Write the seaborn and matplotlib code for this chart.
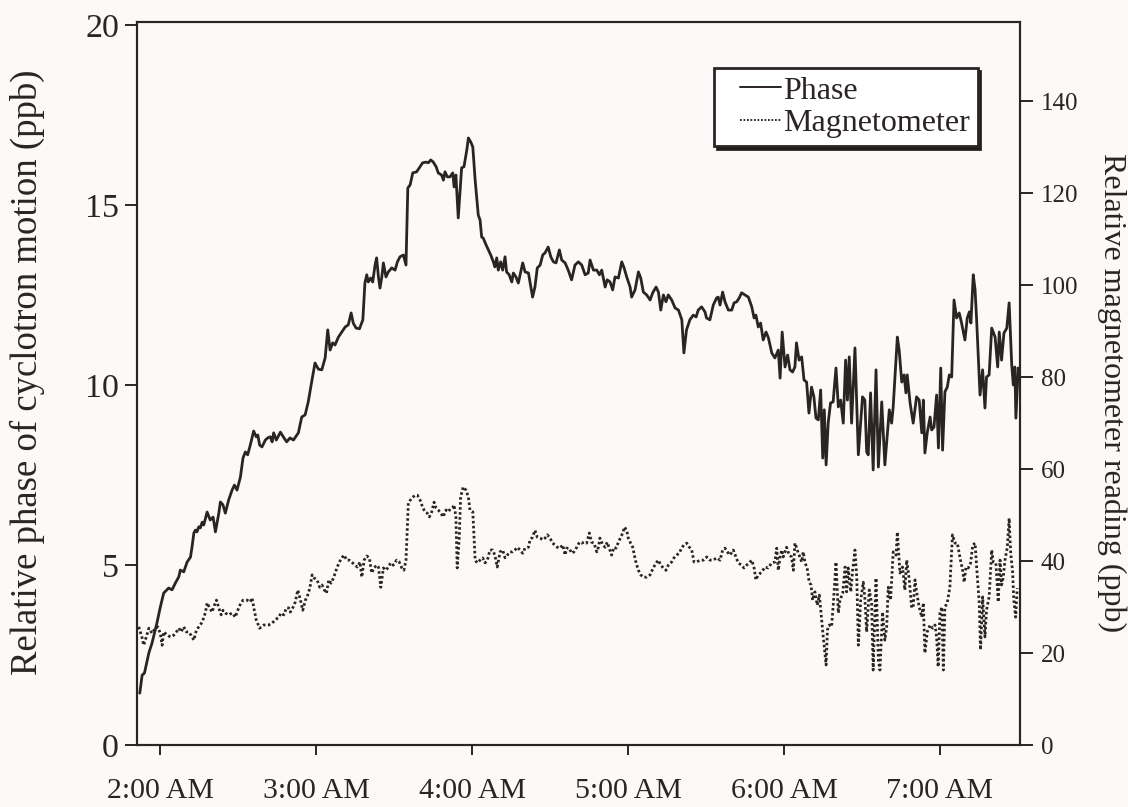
import matplotlib
matplotlib.use("Agg")
import matplotlib.pyplot as plt
from matplotlib.legend_handler import HandlerLine2D
import seaborn as sns
import pandas as pd

# Time axis: minutes after 2:00 AM
tick_minutes = [0, 60, 120, 180, 240, 300]
tick_labels = ["2:00 AM", "3:00 AM", "4:00 AM", "5:00 AM", "6:00 AM", "7:00 AM"]

# Relative phase of cyclotron motion (ppb)
phase_min = [
    -7.8, -6.9, -6.0, -4.3, -3.1, -1.2, 0.1, 1.4, 3.3, 4.6, 5.9, 7.2, 7.8, 9.1, 10.4, 11.7,
    12.3, 13.0, 13.6, 14.2, 14.9, 15.5, 16.2, 16.8, 18.1, 19.3, 20.4, 21.3, 22.6, 23.2, 24.2, 25.1,
    26.4, 27.7, 28.6, 29.6, 30.9, 31.9, 32.8, 33.7, 34.7, 36.0, 37.0, 37.6, 38.3, 39.2, 40.5, 41.4,
    42.4, 43.1, 43.7, 44.7, 46.3, 47.4, 48.7, 50.0, 51.3, 53.2, 54.5, 55.8, 57.0, 58.3, 59.6, 60.9,
    62.2, 63.5, 64.5, 65.4, 66.4, 67.3, 68.6, 69.9, 71.2, 72.4, 73.5, 74.3, 75.4, 76.7, 78.0, 78.8,
    79.5, 80.1, 81.0, 81.8, 82.7, 83.3, 84.0, 84.6, 85.3, 85.9, 86.9, 87.8, 89.1, 90.4, 91.3, 92.3,
    93.6, 94.6, 95.3, 96.2, 97.2, 98.7, 99.7, 101.0, 102.3, 103.2, 104.1, 105.1, 106.2, 107.0, 108.3, 109.0,
    109.6, 110.5, 111.5, 112.6, 113.1, 113.8, 114.7, 116.0, 116.9, 118.0, 118.6, 119.5, 120.3, 121.2, 121.8, 122.4,
    123.1, 123.7, 124.3, 125.4, 126.3, 127.2, 128.2, 128.8, 129.5, 130.1, 131.0, 131.8, 132.7, 133.3, 134.3, 135.3,
    135.9, 136.9, 137.8, 138.5, 139.5, 140.4, 141.7, 142.3, 143.3, 144.2, 145.1, 146.2, 147.2, 148.1, 149.3, 150.3,
    151.3, 152.3, 153.6, 154.5, 155.8, 157.0, 158.3, 159.6, 160.9, 162.2, 163.5, 164.7, 165.4, 166.7, 168.0, 169.0,
    169.9, 171.2, 172.0, 173.1, 174.1, 175.0, 176.3, 177.6, 178.5, 179.5, 180.8, 181.4, 182.7, 184.0, 184.9, 185.9,
    187.2, 188.5, 189.5, 190.8, 191.7, 192.6, 193.6, 194.6, 195.5, 196.8, 198.1, 199.4, 200.7, 201.5, 202.5, 203.8,
    205.1, 206.2, 207.0, 208.3, 209.6, 210.2, 211.5, 212.8, 214.1, 214.7, 215.4, 216.4, 217.3, 218.6, 219.9, 220.8,
    221.8, 222.8, 223.7, 225.0, 226.3, 227.6, 228.5, 229.2, 230.1, 231.0, 232.0, 233.1, 234.0, 235.3, 236.5, 237.8,
    238.5, 239.3, 240.4, 241.4, 242.3, 243.3, 244.2, 244.8, 245.8, 246.8, 247.7, 248.7, 249.6, 250.6, 251.5, 252.3,
    253.2, 254.1, 254.9, 255.5, 256.2, 257.0, 257.9, 258.9, 260.0, 260.9, 261.8, 262.8, 263.7, 264.4, 265.1, 266.0,
    267.3, 268.6, 270.2, 271.1, 271.8, 272.4, 273.3, 274.3, 275.4, 276.3, 277.6, 278.8, 280.5, 281.4, 282.0, 283.6,
    284.3, 285.3, 286.2, 286.9, 287.4, 288.5, 289.7, 291.0, 292.0, 293.0, 293.6, 294.2, 295.1, 296.2, 296.8, 297.7,
    298.7, 299.4, 300.3, 301.0, 301.9, 302.8, 303.6, 304.5, 305.4, 306.4, 307.4, 308.3, 309.6, 310.5, 311.3, 311.9,
    312.8, 313.5, 314.1, 315.4, 316.4, 317.3, 317.9, 318.9, 319.9, 321.2, 322.2, 322.8, 323.7, 324.6, 325.7, 326.6,
    327.6, 328.2, 328.8, 329.2, 330.1,
]
phase_ppb = [
    1.44, 1.94, 2.00, 2.56, 2.83, 3.39, 3.83, 4.22, 4.36, 4.31, 4.50, 4.67, 4.86, 4.81, 5.08, 5.22,
    5.50, 5.89, 5.97, 5.92, 6.06, 6.03, 6.19, 6.11, 6.47, 6.25, 6.33, 5.92, 6.44, 6.75, 6.67, 6.44,
    6.81, 7.08, 7.22, 7.08, 7.44, 7.97, 8.14, 8.06, 8.33, 8.72, 8.56, 8.61, 8.33, 8.28, 8.47, 8.53,
    8.56, 8.42, 8.67, 8.47, 8.69, 8.56, 8.42, 8.53, 8.47, 8.67, 9.11, 9.17, 9.53, 10.08, 10.61, 10.44,
    10.42, 10.75, 11.53, 10.97, 11.17, 11.11, 11.33, 11.47, 11.61, 11.67, 12.00, 11.72, 11.58, 11.56, 11.81, 12.83,
    13.06, 12.86, 12.97, 12.86, 13.33, 13.53, 13.00, 12.69, 13.00, 13.39, 13.00, 13.14, 13.25, 13.19, 13.42, 13.56,
    13.61, 13.33, 15.47, 15.56, 15.89, 15.92, 16.03, 16.17, 16.19, 16.17, 16.25, 16.19, 16.06, 15.89, 15.83, 15.69,
    15.92, 15.78, 15.78, 15.89, 15.50, 15.83, 14.64, 16.03, 16.06, 16.53, 16.86, 16.75, 16.61, 15.69, 15.22, 14.72,
    14.58, 14.11, 14.08, 13.89, 13.75, 13.61, 13.42, 13.28, 13.53, 13.19, 13.42, 13.19, 13.56, 13.14, 13.06, 12.86,
    13.11, 13.00, 12.83, 13.06, 13.39, 13.14, 13.11, 12.86, 12.44, 12.72, 13.25, 13.33, 13.61, 13.67, 13.83, 13.56,
    13.42, 13.39, 13.75, 13.47, 13.39, 13.19, 12.92, 13.33, 13.42, 13.33, 13.06, 13.11, 13.47, 13.19, 13.19, 13.06,
    13.19, 12.72, 12.92, 12.86, 12.64, 13.00, 12.97, 13.42, 13.25, 13.00, 12.72, 12.44, 12.64, 13.14, 12.97, 12.58,
    12.50, 12.36, 12.56, 12.72, 12.58, 12.08, 12.50, 12.31, 12.50, 12.36, 12.14, 12.08, 11.81, 10.89, 11.53, 11.81,
    11.94, 11.89, 12.08, 12.17, 12.03, 11.86, 11.81, 12.22, 12.42, 12.44, 12.22, 12.58, 12.31, 12.08, 12.08, 12.28,
    12.31, 12.42, 12.56, 12.50, 12.44, 12.17, 11.86, 11.94, 11.61, 11.72, 11.25, 11.47, 11.31, 10.89, 10.75, 10.97,
    10.19, 11.47, 10.50, 10.83, 10.42, 10.36, 10.50, 11.17, 10.69, 10.78, 10.14, 10.08, 9.22, 9.94, 9.67, 9.08,
    9.03, 9.86, 7.97, 9.31, 7.78, 8.94, 9.50, 9.53, 10.47, 9.39, 9.58, 8.94, 10.69, 9.58, 10.78, 8.94,
    11.03, 8.06, 9.67, 9.58, 8.14, 8.06, 9.78, 7.64, 10.42, 7.72, 9.53, 7.78, 9.31, 8.94, 9.39, 11.33,
    10.97, 10.08, 10.28, 9.78, 10.28, 9.50, 8.94, 9.67, 9.58, 8.67, 9.58, 8.11, 8.67, 9.11, 8.75, 8.83,
    9.72, 8.25, 10.47, 8.19, 9.81, 9.94, 10.28, 10.22, 12.36, 11.86, 12.00, 11.72, 11.25, 11.86, 12.03, 11.72,
    13.06, 12.64, 11.81, 9.72, 10.42, 9.36, 10.22, 10.28, 11.58, 11.33, 10.50, 11.47, 10.69, 11.44, 11.58, 12.28,
    10.56, 10.00, 10.50, 9.08, 10.47,
]

# Relative magnetometer reading (ppb)
mag_min = [
    -8.2, -6.9, -6.3, -5.3, -4.3, -3.1, -1.8, -0.9, 0.1, 0.8, 1.4, 2.7, 4.0, 5.3, 6.3, 7.2,
    8.1, 9.1, 10.1, 11.0, 11.9, 13.0, 14.0, 14.9, 16.2, 17.4, 18.1, 19.1, 20.0, 20.9, 21.7, 22.6,
    23.5, 24.2, 25.1, 26.4, 27.7, 29.0, 29.6, 30.7, 31.9, 33.5, 34.7, 35.4, 36.0, 37.0, 38.3, 39.9,
    41.8, 43.1, 44.3, 45.7, 46.5, 47.6, 48.6, 49.5, 50.1, 51.2, 52.0, 53.0, 54.0, 54.9, 55.9, 56.8,
    57.6, 58.5, 59.3, 60.4, 61.4, 62.3, 63.2, 64.0, 64.9, 65.8, 66.7, 68.0, 69.0, 69.9, 70.8, 71.8,
    72.8, 73.7, 75.0, 75.9, 76.9, 77.6, 78.5, 79.5, 80.5, 81.4, 82.3, 83.3, 84.0, 84.9, 85.9, 86.9,
    87.8, 88.7, 89.7, 91.0, 92.0, 93.0, 93.8, 94.6, 95.5, 96.8, 98.1, 99.0, 100.0, 101.0, 101.9, 102.8,
    103.6, 104.5, 105.4, 106.2, 107.0, 108.0, 108.9, 110.0, 110.9, 111.8, 112.6, 113.1, 113.8, 114.3, 115.1, 115.6,
    116.6, 117.7, 118.6, 119.2, 120.3, 121.2, 122.0, 123.1, 124.1, 125.0, 125.9, 126.9, 127.9, 128.8, 129.7, 130.8,
    131.8, 132.7, 133.6, 134.6, 135.6, 136.5, 137.4, 138.5, 139.5, 140.4, 141.7, 142.3, 143.3, 144.2, 145.1, 146.2,
    147.2, 148.1, 149.0, 150.0, 151.0, 151.9, 152.8, 153.8, 154.9, 155.8, 156.4, 157.4, 158.3, 159.2, 160.3, 161.3,
    162.2, 163.1, 164.1, 165.1, 166.0, 166.9, 168.0, 168.6, 169.2, 170.3, 171.2, 172.0, 172.8, 173.7, 174.6, 175.4,
    176.3, 177.2, 178.0, 178.6, 179.5, 180.1, 181.0, 181.8, 182.3, 183.1, 184.0, 184.9, 185.9, 187.2, 188.5, 189.7,
    190.8, 191.7, 192.6, 193.6, 194.6, 195.5, 196.8, 197.7, 198.7, 199.7, 200.6, 201.5, 202.6, 203.6, 204.5, 205.4,
    206.4, 207.7, 209.0, 210.3, 211.5, 212.8, 214.1, 215.4, 216.4, 217.3, 218.6, 219.2, 220.5, 221.5, 222.4, 223.7,
    224.6, 225.6, 226.6, 227.6, 228.5, 229.2, 230.1, 231.4, 232.7, 233.9, 235.3, 236.5, 237.2, 237.8, 238.5, 239.1,
    239.7, 240.4, 241.0, 242.0, 242.9, 243.6, 244.2, 244.9, 245.5, 246.1, 246.8, 247.4, 248.1, 248.9, 249.7, 250.4,
    251.0, 251.9, 252.8, 253.6, 254.5, 255.1, 256.2, 256.7, 257.4, 258.3, 259.0, 260.0, 260.9, 261.5, 262.6, 263.5,
    264.1, 264.7, 265.7, 266.4, 267.3, 268.0, 268.6, 269.5, 270.5, 271.1, 271.8, 272.8, 273.7, 274.3, 275.4, 276.3,
    276.9, 277.9, 278.8, 279.5, 280.1, 281.0, 282.0, 283.1, 283.6, 284.6, 285.6, 286.5, 287.2, 288.2, 289.1, 289.7,
    290.4, 291.0, 292.0, 293.0, 293.6, 294.2, 295.1, 296.2, 297.2, 298.1, 298.7, 299.3, 300.0, 300.7, 301.3, 301.9,
    302.8, 303.8, 304.8, 305.8, 306.7, 307.7, 308.7, 309.3, 310.0, 310.9, 311.8, 312.6, 313.5, 314.1, 315.1, 315.6,
    316.4, 317.3, 317.9, 318.9, 319.9, 320.5, 321.5, 322.4, 323.1, 323.7, 324.3, 325.0, 325.9, 326.6, 327.2, 327.9,
    328.4, 329.1, 329.7,
]
mag_ppb = [
    25.7, 23.3, 21.7, 23.5, 25.4, 24.3, 25.4, 25.7, 24.3, 21.7, 24.6, 23.9, 23.5, 23.9, 24.6, 25.4,
    24.6, 25.7, 24.6, 24.6, 23.9, 22.8, 25.0, 25.7, 26.7, 28.7, 30.9, 29.8, 28.9, 30.4, 31.5, 29.8,
    28.3, 29.3, 28.7, 28.3, 28.7, 27.8, 28.9, 30.4, 31.5, 31.5, 31.1, 32.0, 30.0, 27.2, 25.4, 26.1,
    26.1, 26.5, 27.2, 27.8, 28.7, 28.3, 29.8, 29.8, 28.9, 30.0, 31.1, 33.7, 31.5, 29.3, 31.5, 32.6,
    34.1, 37.0, 36.3, 35.9, 34.3, 34.8, 33.7, 33.0, 35.9, 35.2, 36.3, 38.5, 39.8, 40.7, 41.3, 40.2,
    40.2, 39.8, 39.1, 38.7, 39.8, 36.5, 40.2, 41.1, 40.7, 37.4, 38.5, 39.1, 38.7, 34.3, 38.5, 38.0,
    38.7, 39.6, 39.1, 40.2, 39.8, 38.5, 38.0, 40.2, 52.6, 53.7, 54.3, 54.3, 53.3, 51.7, 50.7, 50.4,
    49.6, 50.7, 52.8, 51.5, 51.1, 50.4, 49.6, 51.1, 50.7, 51.5, 51.7, 52.2, 49.6, 38.5, 45.2, 53.9,
    56.1, 55.4, 53.9, 51.1, 50.7, 40.2, 39.6, 40.2, 40.7, 39.6, 40.2, 42.4, 42.4, 41.3, 38.7, 42.0,
    42.4, 40.7, 41.3, 42.0, 42.0, 42.4, 43.0, 42.4, 41.7, 42.8, 43.0, 44.6, 45.2, 46.7, 45.2, 45.0,
    44.6, 45.0, 45.7, 45.0, 43.9, 43.5, 43.0, 42.8, 43.5, 41.3, 42.8, 42.8, 41.7, 42.0, 43.0, 44.1,
    43.9, 44.1, 43.9, 46.1, 44.1, 43.9, 42.0, 43.0, 45.0, 43.5, 43.0, 44.1, 42.8, 41.3, 43.0, 42.8,
    44.1, 45.2, 46.1, 47.4, 46.7, 45.0, 43.9, 43.0, 41.7, 39.6, 38.0, 37.0, 36.5, 36.5, 37.0, 38.5,
    39.6, 40.2, 39.1, 38.5, 38.0, 39.1, 39.8, 40.7, 41.3, 41.7, 42.8, 43.5, 43.9, 43.0, 42.4, 39.8,
    39.8, 40.2, 40.2, 40.9, 40.2, 40.2, 40.7, 40.2, 42.4, 42.8, 41.7, 41.3, 42.4, 40.9, 39.6, 39.1,
    38.5, 39.1, 39.6, 40.2, 38.5, 35.9, 37.0, 37.6, 38.7, 38.5, 39.6, 39.8, 42.8, 38.0, 40.9, 42.4,
    40.9, 42.0, 43.0, 41.3, 40.9, 38.0, 43.9, 42.8, 41.7, 40.9, 39.8, 42.0, 39.6, 38.5, 35.4, 34.8,
    31.5, 33.3, 30.4, 32.6, 27.2, 23.5, 17.4, 25.0, 26.1, 25.7, 30.9, 39.8, 28.7, 31.5, 33.0, 38.7,
    33.3, 38.5, 33.3, 38.0, 42.4, 36.3, 21.7, 31.5, 35.4, 32.0, 24.6, 33.7, 30.9, 16.3, 36.3, 18.5,
    16.3, 28.9, 22.8, 25.7, 34.3, 31.5, 42.0, 41.3, 46.3, 37.4, 38.7, 33.7, 40.2, 35.9, 29.8, 30.0,
    35.9, 33.3, 30.0, 27.8, 30.9, 20.0, 24.6, 26.1, 25.4, 26.1, 23.5, 17.0, 28.7, 30.0, 16.3, 30.0,
    30.9, 34.3, 45.7, 43.9, 43.9, 40.7, 38.0, 35.4, 38.7, 38.5, 39.6, 43.5, 43.9, 38.7, 30.9, 20.7,
    32.2, 23.5, 29.3, 32.2, 42.4, 39.8, 39.6, 31.1, 40.2, 34.8, 36.3, 40.2, 43.0, 49.3, 41.7, 38.0,
    31.5, 27.8, 34.1,
]

assert len(phase_min) == len(phase_ppb)
assert len(mag_min) == len(mag_ppb)

phase_df = pd.DataFrame({"minutes": phase_min, "ppb": phase_ppb})
mag_df = pd.DataFrame({"minutes": mag_min, "ppb": mag_ppb})

sns.set_theme(style="ticks")
plt.rcParams["font.family"] = ["Liberation Serif", "DejaVu Serif"]

ink = "#2b2424"
paper = "#fbfaf8"


class InsetLine(HandlerLine2D):
    """Legend line that starts part-way into the handle box."""

    def get_xdata(self, legend, xdescent, ydescent, width, height, fontsize):
        xdata, xmarker = super().get_xdata(legend, xdescent, ydescent, width, height, fontsize)
        start = -xdescent + width * 0.3
        return [start, -xdescent + width], xmarker


fig = plt.figure(figsize=(11.28, 8.07), dpi=100, facecolor=paper)
ax = fig.add_axes([0.1215, 0.0768, 0.7828, 0.8959])
ax.set_facecolor(paper)
ax2 = ax.twinx()

sns.lineplot(data=phase_df, x="minutes", y="ppb", ax=ax, color=ink, lw=2.0,
             estimator=None, sort=False, label="Phase", legend=False)
sns.lineplot(data=mag_df, x="minutes", y="ppb", ax=ax2, color=ink, lw=2.0,
             estimator=None, sort=False, label="Magnetometer", legend=False,
             linestyle=(0, (0.9, 0.9)))

ax.set_xlim(-8.85, 330.8)
ax.set_ylim(0, 20.08)
ax2.set_ylim(0, 157.2)

ax.set_xticks(tick_minutes)
ax.set_xticklabels(tick_labels)
ax.set_yticks([0, 5, 10, 15, 20])
ax2.set_yticks([0, 20, 40, 60, 80, 100, 120, 140])

ax.set_xlabel("")
ax.set_ylabel("Relative phase of cyclotron motion (ppb)", fontsize=26.5, color=ink)
ax.yaxis.set_label_coords(-0.104, 0.515)
ax2.set_ylabel("Relative magnetometer reading (ppb)", fontsize=23, color=ink,
               rotation=270, va="center", ha="center")
ax2.yaxis.set_label_coords(1.104, 0.488)

ax.tick_params(axis="x", labelsize=21.5, colors=ink, direction="out", length=7, width=1.4, pad=17)
ax.tick_params(axis="y", labelsize=24.5, colors=ink, direction="out", length=9, width=1.4, pad=4)
ax2.tick_params(axis="y", labelsize=18, colors=ink, direction="out", length=9, width=1.4, pad=6)

for a in (ax, ax2):
    for side in ("left", "right", "top", "bottom"):
        a.spines[side].set_visible(True)
        a.spines[side].set_color(ink)
        a.spines[side].set_linewidth(1.5)

# Combined legend with drop shadow
handles = ax.get_lines()[:1] + ax2.get_lines()[:1]
leg = ax2.legend(handles, ["Phase", "Magnetometer"], loc="upper right",
                 bbox_to_anchor=(0.952, 0.936), fontsize=23, frameon=True, fancybox=False,
                 shadow={"color": "#1e1a1a", "alpha": 0.95}, handlelength=1.85,
                 handletextpad=0.05, borderpad=0.25, labelspacing=0.1, borderaxespad=0,
                 handler_map={h: InsetLine() for h in handles})
leg.get_frame().set_edgecolor(ink)
leg.get_frame().set_linewidth(2.0)
leg.get_frame().set_facecolor("white")
for t in leg.get_texts():
    t.set_color(ink)
for h in leg.get_lines():
    h.set_linewidth(1.4)

fig.savefig("out.png", dpi=100, facecolor=paper)
